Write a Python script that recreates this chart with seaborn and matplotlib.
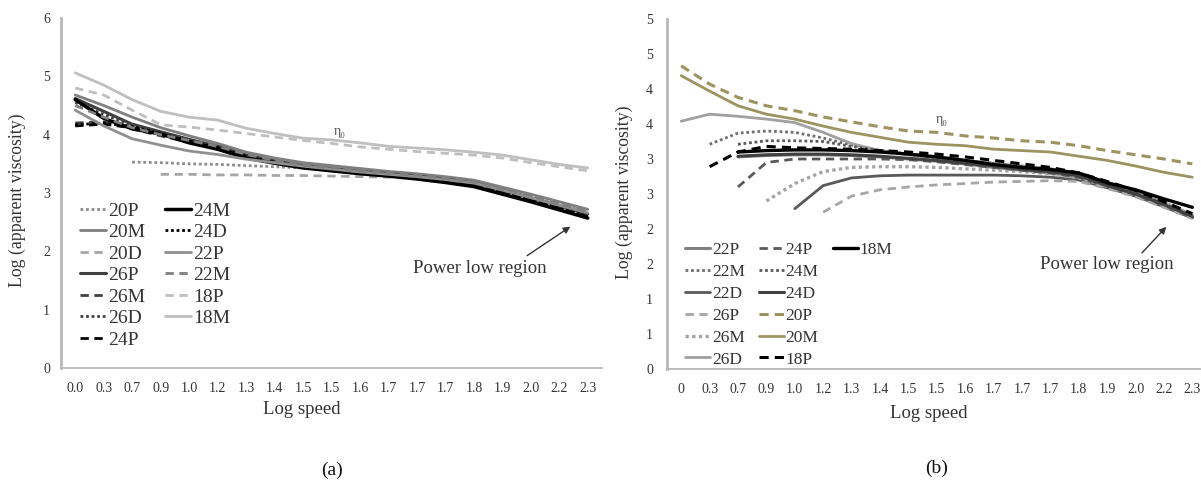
import numpy as np
import pandas as pd
import matplotlib
matplotlib.use("Agg")
import matplotlib.pyplot as plt
from matplotlib.lines import Line2D
import seaborn as sns

nan = np.nan
# ---------------- data ----------------
speed_labels_a = ["0.0", "0.3", "0.7", "0.9", "1.0", "1.2", "1.3", "1.4", "1.5", "1.5",
                  "1.6", "1.7", "1.7", "1.7", "1.8", "1.9", "2.0", "2.2", "2.3"]
speed_labels_b = ["0", "0.3", "0.7", "0.9", "1.0", "1.2", "1.3", "1.4", "1.5", "1.5",
                  "1.6", "1.7", "1.7", "1.7", "1.8", "1.9", "2.0", "2.2", "2.3"]
yticklabels_b = ["0", "1", "1", "2", "2", "3", "3", "4", "4", "5", "5"]

# panel (a)
a_20P = [nan, nan, 3.53, 3.52, 3.50, 3.49, 3.47, 3.45, 3.43, 3.40, 3.37, 3.33, 3.29, 3.25, 3.19, 3.07, 2.95, 2.82, 2.69]
a_20M = [4.68, 4.50, 4.30, 4.12, 3.98, 3.85, 3.70, 3.60, 3.52, 3.47, 3.42, 3.37, 3.33, 3.28, 3.22, 3.10, 2.98, 2.85, 2.72]
a_20D = [nan, nan, nan, 3.32, 3.32, 3.31, 3.31, 3.30, 3.30, 3.29, 3.28, 3.27, 3.25, 3.22, 3.16, 3.04, 2.91, 2.78, 2.65]
a_26P = [4.62, 4.40, 4.18, 4.05, 3.92, 3.80, 3.65, 3.55, 3.47, 3.42, 3.37, 3.33, 3.29, 3.24, 3.17, 3.05, 2.92, 2.78, 2.64]
a_26M = [4.20, 4.22, 4.10, 3.98, 3.87, 3.76, 3.61, 3.52, 3.45, 3.40, 3.35, 3.31, 3.27, 3.22, 3.15, 3.03, 2.90, 2.76, 2.62]
a_26D = [4.55, 4.35, 4.15, 4.02, 3.90, 3.78, 3.63, 3.53, 3.45, 3.40, 3.35, 3.31, 3.27, 3.21, 3.14, 3.02, 2.89, 2.75, 2.61]
a_24P = [4.15, 4.18, 4.12, 4.00, 3.88, 3.77, 3.62, 3.52, 3.44, 3.39, 3.34, 3.30, 3.26, 3.20, 3.13, 3.00, 2.87, 2.73, 2.59]
a_24M = [4.60, 4.28, 4.10, 4.01, 3.86, 3.75, 3.60, 3.51, 3.43, 3.38, 3.33, 3.29, 3.24, 3.18, 3.11, 2.98, 2.85, 2.71, 2.57]
a_24D = [4.17, 4.20, 4.14, 4.02, 3.89, 3.78, 3.63, 3.53, 3.45, 3.40, 3.35, 3.31, 3.26, 3.21, 3.14, 3.01, 2.88, 2.74, 2.60]
a_22P = [4.42, 4.15, 3.93, 3.82, 3.72, 3.66, 3.58, 3.52, 3.46, 3.41, 3.36, 3.32, 3.28, 3.23, 3.17, 3.05, 2.92, 2.79, 2.66]
a_22M = [4.50, 4.30, 4.12, 4.00, 3.90, 3.80, 3.66, 3.56, 3.48, 3.43, 3.38, 3.34, 3.30, 3.25, 3.19, 3.07, 2.95, 2.81, 2.68]
a_18P = [4.80, 4.68, 4.42, 4.17, 4.13, 4.08, 4.02, 3.96, 3.90, 3.85, 3.79, 3.75, 3.71, 3.68, 3.65, 3.60, 3.52, 3.45, 3.38]
a_18M = [5.06, 4.85, 4.60, 4.40, 4.30, 4.25, 4.11, 4.02, 3.94, 3.91, 3.86, 3.80, 3.77, 3.74, 3.70, 3.65, 3.57, 3.49, 3.43]

# panel (b)
b_22P = [nan, nan, 3.03, 3.05, 3.06, 3.06, 3.05, 3.03, 3.00, 2.97, 2.93, 2.88, 2.84, 2.80, 2.74, 2.60, 2.48, 2.32, 2.16]
b_22M = [nan, 3.21, 3.37, 3.40, 3.38, 3.30, 3.20, 3.12, 3.07, 3.02, 2.98, 2.94, 2.90, 2.86, 2.79, 2.66, 2.52, 2.37, 2.20]
b_22D = [nan, nan, nan, nan, 2.29, 2.62, 2.73, 2.76, 2.77, 2.77, 2.77, 2.77, 2.76, 2.74, 2.70, 2.59, 2.47, 2.32, 2.16]
b_26P = [nan, nan, nan, nan, nan, 2.24, 2.47, 2.56, 2.60, 2.63, 2.65, 2.67, 2.68, 2.69, 2.68, 2.58, 2.46, 2.31, 2.15]
b_26M = [nan, nan, nan, 2.40, 2.65, 2.82, 2.88, 2.89, 2.89, 2.88, 2.86, 2.84, 2.82, 2.79, 2.73, 2.61, 2.48, 2.33, 2.17]
b_26D = [3.54, 3.64, 3.61, 3.57, 3.52, 3.38, 3.22, 3.12, 3.06, 3.02, 2.98, 2.94, 2.90, 2.86, 2.80, 2.67, 2.53, 2.38, 2.21]
b_24P = [nan, nan, 2.60, 2.95, 3.00, 3.00, 3.00, 3.00, 2.99, 2.96, 2.92, 2.88, 2.84, 2.80, 2.74, 2.62, 2.49, 2.34, 2.17]
b_24M = [nan, nan, 3.21, 3.26, 3.26, 3.25, 3.18, 3.12, 3.07, 3.02, 2.97, 2.93, 2.89, 2.85, 2.78, 2.65, 2.51, 2.36, 2.19]
b_24D = [nan, nan, 3.04, 3.06, 3.07, 3.07, 3.06, 3.04, 3.01, 2.98, 2.94, 2.90, 2.85, 2.82, 2.76, 2.62, 2.50, 2.35, 2.18]
b_20P = [4.33, 4.07, 3.88, 3.76, 3.69, 3.60, 3.53, 3.46, 3.40, 3.38, 3.33, 3.30, 3.26, 3.24, 3.19, 3.12, 3.06, 3.00, 2.93]
b_20M = [4.19, 3.97, 3.76, 3.64, 3.57, 3.47, 3.38, 3.31, 3.24, 3.21, 3.19, 3.14, 3.12, 3.10, 3.04, 2.98, 2.90, 2.81, 2.74]
b_18P = [nan, 2.89, 3.10, 3.18, 3.16, 3.15, 3.14, 3.12, 3.10, 3.07, 3.03, 2.98, 2.93, 2.88, 2.80, 2.68, 2.55, 2.39, 2.22]
b_18M = [nan, nan, 3.10, 3.12, 3.13, 3.13, 3.12, 3.10, 3.07, 3.03, 2.98, 2.92, 2.88, 2.85, 2.80, 2.66, 2.56, 2.43, 2.31]

series_a = ["20P", "20M", "20D", "26P", "26M", "26D", "24P", "24M", "24D", "22P", "22M", "18P", "18M"]
values_a = [a_20P, a_20M, a_20D, a_26P, a_26M, a_26D, a_24P, a_24M, a_24D, a_22P, a_22M, a_18P, a_18M]
series_b = ["22P", "22M", "22D", "26P", "26M", "26D", "24P", "24M", "24D", "20P", "20M", "18P", "18M"]
values_b = [b_22P, b_22M, b_22D, b_26P, b_26M, b_26D, b_24P, b_24M, b_24D, b_20P, b_20M, b_18P, b_18M]

# ---------------- styles ----------------
DOT = (0, (1, 1))
DASH = (0, (3, 2))
SOLID = "-"
style_a = {
    "20P": ("#8c8c8c", DOT, 2.0), "20M": ("#7f7f7f", SOLID, 2.0), "20D": ("#a6a6a6", DASH, 2.0),
    "26P": ("#404040", SOLID, 2.2), "26M": ("#404040", DASH, 2.0), "26D": ("#404040", DOT, 2.0),
    "24P": ("#000000", DASH, 2.0), "24M": ("#000000", SOLID, 2.5), "24D": ("#000000", DOT, 2.0),
    "22P": ("#909090", SOLID, 2.0), "22M": ("#808080", DASH, 2.0), "18P": ("#bfbfbf", DASH, 2.0),
    "18M": ("#bfbfbf", SOLID, 2.0),
}
OLIVE = "#9c9360"
style_b = {
    "22P": ("#808080", SOLID, 2.2), "22M": ("#707070", DOT, 2.0), "22D": ("#595959", SOLID, 2.0),
    "26P": ("#a6a6a6", DASH, 2.0), "26M": ("#a6a6a6", DOT, 2.4), "26D": ("#a0a0a0", SOLID, 2.0),
    "24P": ("#595959", DASH, 2.0), "24M": ("#595959", DOT, 2.0), "24D": ("#404040", SOLID, 2.2),
    "20P": (OLIVE, DASH, 2.2), "20M": (OLIVE, SOLID, 2.0), "18P": ("#000000", DASH, 2.2),
    "18M": ("#000000", SOLID, 2.4),
}

sns.set_style("white")
plt.rcParams["font.family"] = ["Liberation Serif", "DejaVu Serif"]
TXT = "#333333"

W, H = 1201, 483
fig = plt.figure(figsize=(W / 100, H / 100), dpi=100)


def px_axes(x0, y0, x1, y1):
    return fig.add_axes([x0 / W, 1 - y1 / H, (x1 - x0) / W, (y1 - y0) / H])


ax_a = px_axes(61, 18, 602, 368)
ax_b = px_axes(667, 19, 1200, 369)

idx = np.arange(len(speed_labels_a))


def draw(ax, names, vals, styles):
    handles = []
    for name, v in zip(names, vals):
        col, ls, lw = styles[name]
        df = pd.DataFrame({"x": idx, "y": v}).dropna()
        sns.lineplot(data=df, x="x", y="y", ax=ax, color=col, linestyle=ls, lw=lw,
                     estimator=None, sort=False, legend=False)
        handles.append(Line2D([], [], color=col, linestyle=ls, lw=lw))
    return handles


h_a = draw(ax_a, series_a, values_a, style_a)
h_b = draw(ax_b, series_b, values_b, style_b)

for ax in (ax_a, ax_b):
    for s in ("top", "right"):
        ax.spines[s].set_visible(False)
    ax.spines["left"].set_color("#b8b8b8")
    ax.spines["left"].set_linewidth(2.0)
    ax.spines["bottom"].set_color("#b8b8b8")
    ax.spines["bottom"].set_linewidth(1.3)
    ax.set_xlabel("")
    ax.set_ylabel("")
    ax.tick_params(length=0, labelsize=10, colors=TXT)
    ax.set_xticks(idx)

ax_a.set_xlim(-0.5, 18.5)
ax_a.set_ylim(0, 6)
ax_a.set_xticklabels(speed_labels_a)
ax_a.set_yticks(range(0, 7))
ax_a.tick_params(axis="x", pad=10)
ax_a.tick_params(axis="y", pad=8)

ax_b.set_xlim(-0.5, 18.27)
ax_b.set_ylim(0, 5)
ax_b.set_xticklabels(speed_labels_b)
ax_b.set_yticks(np.arange(0, 5.01, 0.5))
ax_b.set_yticklabels(yticklabels_b)
ax_b.tick_params(axis="x", pad=10)
ax_b.tick_params(axis="y", pad=10)

# legends
leg_a = ax_a.legend(h_a, series_a, ncol=2, loc="upper left",
                    bbox_to_anchor=(80 / W, 1 - 202 / H), bbox_transform=fig.transFigure,
                    frameon=False, fontsize=14, handlelength=1.35, handletextpad=0.1,
                    columnspacing=1.0, labelspacing=0.2, borderpad=0, borderaxespad=0)
for t in leg_a.get_texts():
    t.set_color(TXT)

blank = [Line2D([], [], color="none") for _ in range(5)]
leg_b = ax_b.legend(h_b + blank, series_b + [""] * 5, ncol=3, loc="upper left",
                    bbox_to_anchor=(685 / W, 1 - 242 / H), bbox_transform=fig.transFigure,
                    frameon=False, fontsize=12.5, handlelength=1.45, handletextpad=0.1,
                    columnspacing=0.8, labelspacing=0.33, borderpad=0, borderaxespad=0)
for t in leg_b.get_texts():
    t.set_color(TXT)

# axis titles
fig.text(17 / W, 1 - 200 / H, "Log (apparent viscosity)", rotation=90, ha="center",
         va="center", fontsize=12.8, color=TXT)
fig.text(624 / W, 1 - 192 / H, "Log (apparent viscosity)", rotation=90, ha="center",
         va="center", fontsize=12.8, color=TXT)
fig.text(302 / W, 1 - 410 / H, "Log speed", ha="center", va="center", fontsize=13.5, color=TXT)
fig.text(929 / W, 1 - 413 / H, "Log speed", ha="center", va="center", fontsize=13.5, color=TXT)
fig.text(332 / W, 1 - 470 / H, "(a)", ha="center", va="center", fontsize=14, color="#111111")
fig.text(937 / W, 1 - 468 / H, "(b)", ha="center", va="center", fontsize=14, color="#111111")

# annotations
ax_a.text(9.3, 4.05, "η₀", fontsize=10, color="#555555", ha="center", va="center")
ax_b.text(9.19, 3.56, "η₀", fontsize=10, color="#555555", ha="center", va="center")

ax_a.text(14.2, 1.70, "Power low region", fontsize=13.5, color=TXT, ha="center", va="center")
ax_a.annotate("", xy=(17.47, 2.45), xytext=(15.79, 1.90),
              arrowprops=dict(arrowstyle="-|>", color="#333333", lw=1.0, mutation_scale=10))
ax_b.text(15.0, 1.49, "Power low region", fontsize=13.5, color=TXT, ha="center", va="center")
ax_b.annotate("", xy=(17.15, 2.06), xytext=(16.16, 1.63),
              arrowprops=dict(arrowstyle="-|>", color="#333333", lw=1.0, mutation_scale=10))

fig.savefig("out.png", dpi=100)
